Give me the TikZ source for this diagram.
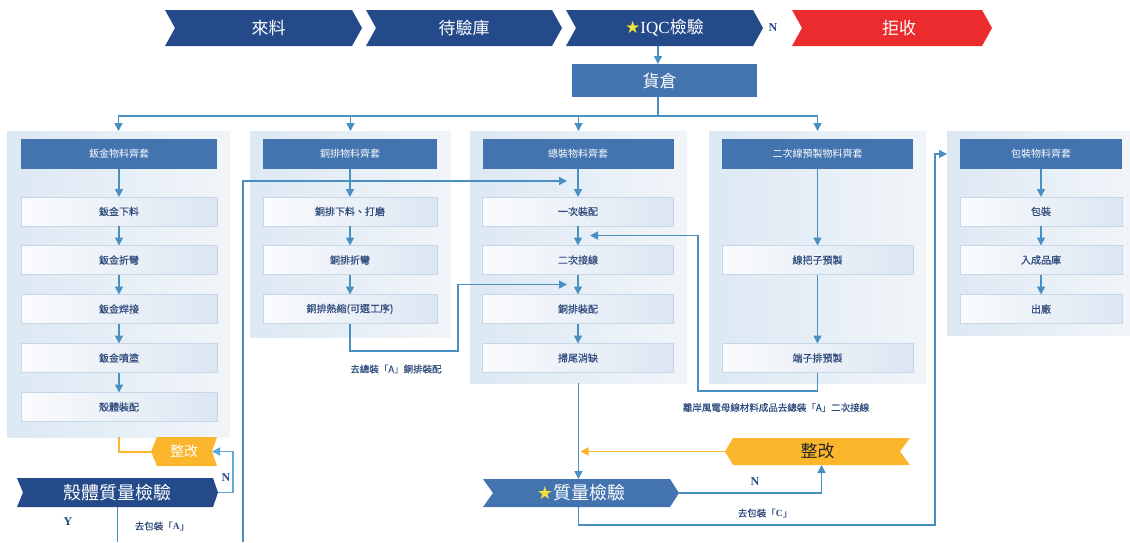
\documentclass[tikz,border=0pt]{standalone}
\usepackage{fontspec}
\usetikzlibrary{arrows.meta,calc}
\newfontfamily\cjk{Noto Sans CJK TC}
\newfontfamily\cjkm{Noto Sans CJK TC}[FakeBold=0.3]
\newfontfamily\ser{Liberation Serif}
\newfontfamily\dvs{DejaVu Sans}
\definecolor{dkblue}{HTML}{254A8A}
\definecolor{mdblue}{HTML}{4374B0}
\definecolor{rejred}{HTML}{EC2B2F}
\definecolor{orng}{HTML}{FBB62C}
\definecolor{lnblue}{HTML}{4A8FC2}
\definecolor{lnlight}{HTML}{5EA8DC}
\definecolor{txtblue}{HTML}{2F4B7C}
\definecolor{staryel}{HTML}{F2E23A}
\definecolor{grpL}{HTML}{DCE8F3}
\definecolor{grpR}{HTML}{F1F5F9}
\definecolor{stepL}{HTML}{FAFBFD}
\definecolor{stepR}{HTML}{DCE6F2}
\definecolor{stepbd}{HTML}{C6D7EA}
\tikzset{
  base/.style={inner sep=0pt, outer sep=0pt, font=\cjk},
  chevR/.style n args={3}{base, path picture={\fill[#1]
    (path picture bounding box.north west) -- ([xshift=-#3]path picture bounding box.north east)
    -- (path picture bounding box.east) -- ([xshift=-#3]path picture bounding box.south east)
    -- (path picture bounding box.south west) -- ([xshift=#2]path picture bounding box.west) -- cycle;}},
  chevL/.style n args={3}{base, path picture={\fill[#1]
    ([xshift=#2]path picture bounding box.north west) -- (path picture bounding box.north east)
    -- ([xshift=-#3]path picture bounding box.east) -- (path picture bounding box.south east)
    -- ([xshift=#2]path picture bounding box.south west) -- (path picture bounding box.west) -- cycle;}},
  ban/.style={minimum height=36, text=white, font=\cjk\fontsize{17}{20}\selectfont},
  grp/.style={base, left color=grpL, right color=grpR},
  hdr/.style={base, fill=mdblue, minimum height=30, text=white, font=\cjk\fontsize{10}{12}\selectfont},
  stp/.style={base, draw=stepbd, line width=0.8pt, left color=stepL, right color=stepR, minimum height=29, text=txtblue, font=\cjkm\fontsize{10}{12}\selectfont},
  ln/.style={draw=lnblue, line width=1.5pt},
  arr/.style={ln, -{Triangle[length=8pt,width=8pt]}},
  oarr/.style={draw=orng, line width=1.5pt, -{Triangle[length=8pt,width=8pt]}},
  oln/.style={draw=orng, line width=2pt},
  lbl/.style={base, text=txtblue, font=\cjkm\fontsize{9.5}{11}\selectfont},
  yn/.style={base, text=dkblue, font=\ser\bfseries\fontsize{12}{14}\selectfont},
}
\begin{document}
\begin{tikzpicture}[x=1pt,y=-1pt]
\useasboundingbox (0,0) rectangle (1130,542);
% ---------- banner
\node[chevR={dkblue}{10}{10}, ban, minimum width=197] (c1) at (263.5,28) {\hspace{10pt}來料};
\node[chevR={dkblue}{10}{10}, ban, minimum width=196] (c2) at (464,28) {待驗庫};
\node[chevR={dkblue}{10}{10}, ban, minimum width=197] (c3) at (664.5,28) {{\dvs\color{staryel}★}{\ser IQC}檢驗\hspace{10pt}};
\node[chevR={rejred}{10}{10}, ban, minimum width=200] (c4) at (892,28) {\hspace{14pt}拒收};
\node[yn] (nq) at (773,28) {N};
\coordinate (k) at (658,0);
\node[base, fill=mdblue, minimum width=185, minimum height=33, text=white, font=\cjk\fontsize{17}{20}\selectfont] (wh) at (664.5,80.5) {\hspace{-10pt}貨倉};
\draw[arr] (c3.south -| k) -- (wh.north -| k);
% ---------- groups
\node[grp, minimum width=223, minimum height=306] (g1) at (118.5,284) {};
\node[grp, minimum width=201, minimum height=206] (g2) at (350.5,234) {};
\node[grp, minimum width=217, minimum height=252] (g3) at (578.5,257) {};
\node[grp, minimum width=217, minimum height=252] (g4) at (817.5,257) {};
\node[grp, minimum width=183, minimum height=204] (g5) at (1038.5,233) {};
% distribution bus
\coordinate (bus) at (0,116);
\draw[ln] (wh.south -| k) -- (k |- bus);
\draw[arr] (g4.north |- bus) -| (g1.north);
\draw[arr] (g2.north |- bus) -- (g2.north);
\draw[arr] (g3.north |- bus) -- (g3.north);
\draw[arr] (g4.north |- bus) -- (g4.north);
% group 1
\node[hdr, minimum width=196] (h1) at (119,154) {鈑金物料齊套};
\node[stp, minimum width=196] (s11) at (119,211.5) {鈑金下料};
\node[stp, minimum width=196] (s12) at (119,260) {鈑金折彎};
\node[stp, minimum width=196] (s13) at (119,309) {鈑金焊接};
\node[stp, minimum width=196] (s14) at (119,358) {鈑金噴塗};
\node[stp, minimum width=196] (s15) at (119,407) {殼體裝配};
\foreach \a/\b in {h1/s11,s11/s12,s12/s13,s13/s14,s14/s15} \draw[arr] (\a.south) -- (\b.north);
% group 2
\node[hdr, minimum width=174] (h2) at (350,154) {銅排物料齊套};
\node[stp, minimum width=174] (s21) at (350,211.5) {銅排下料、打磨};
\node[stp, minimum width=174] (s22) at (350,260) {銅排折彎};
\node[stp, minimum width=174] (s23) at (350,309) {銅排熱縮(可選工序)};
\foreach \a/\b in {h2/s21,s21/s22,s22/s23} \draw[arr] (\a.south) -- (\b.north);
% group 3
\node[hdr, minimum width=191] (h3) at (578,154) {總裝物料齊套};
\node[stp, minimum width=191] (s31) at (578,211.5) {一次裝配};
\node[stp, minimum width=191] (s32) at (578,260) {二次接線};
\node[stp, minimum width=191] (s33) at (578,309) {銅排裝配};
\node[stp, minimum width=191] (s34) at (578,358) {掃尾消缺};
\foreach \a/\b in {h3/s31,s31/s32,s32/s33,s33/s34} \draw[arr] (\a.south) -- (\b.north);
% group 4
\node[hdr, minimum width=191] (h4) at (817.5,154) {二次線預製物料齊套};
\node[stp, minimum width=191] (s41) at (817.5,260) {線把子預製};
\node[stp, minimum width=191] (s42) at (817.5,358) {端子排預製};
\draw[arr] (h4.south) -- (s41.north);
\draw[arr] (s41.south) -- (s42.north);
% group 5
\node[hdr, minimum width=162] (h5) at (1041,154) {包裝物料齊套};
\node[stp, minimum width=162] (s51) at (1041,211.5) {包裝};
\node[stp, minimum width=162] (s52) at (1041,260) {入成品庫};
\node[stp, minimum width=162] (s53) at (1041,309) {出廠};
\draw[arr] (h5.south) -- (s51.north);
\draw[arr] (s51.south) -- (s52.north);
\draw[arr] (s52.south) -- (s53.north);
% ---------- side feeds into assembly
\coordinate (b1) at (243,542);
\coordinate (t1) at (567,181);
\coordinate (t2) at (567,284.5);
\coordinate (t3) at (590,235.5);
\draw[arr] (b1) |- (t1);
\draw[arr] (s23.south) |- (458,351) |- (t2);
\node[lbl] (la) at (396,369) {去總裝「A」銅排裝配};
\draw[arr] (s42.south) |- (698,391) |- (t3);
\node[lbl] (lb) at (776,407.5) {離岸風電母線材料成品去總裝「A」二次接線};
% ---------- left quality loop
\node[chevL={orng}{6}{5}, minimum width=66, minimum height=29, text=white, font=\cjk\fontsize{14}{16}\selectfont] (z1) at (184,451.5) {整改};
\node[chevR={dkblue}{6}{5}, minimum width=201, minimum height=29, text=white, font=\cjk\fontsize{18}{20}\selectfont] (q1) at (117.5,492.5) {殼體質量檢驗};
\draw[oln] (g1.south) |- (z1.west);
\draw[draw=lnlight, line width=1.5pt, -{Triangle[length=8pt,width=8pt]}] (q1.east) -- ++(15,0) |- ([xshift=-5pt]z1.east);
\node[yn] (n1) at (226,478) {N};
\node[yn] (y1) at (68,522) {Y};
\draw[ln] (q1.south) -- (q1.south |- b1);
\node[lbl] (lc) at (162,526) {去包裝「{\ser\bfseries A}」};
% ---------- right quality loop
\node[chevR={mdblue}{10}{9}, minimum width=196, minimum height=28, text=white, font=\cjk\fontsize{18}{20}\selectfont] (q2) at (581,493) {{\dvs\color{staryel}★}質量檢驗\hspace{18pt}};
\node[chevL={orng}{8}{10}, minimum width=185, minimum height=27, text=black!85, font=\cjk\fontsize{17}{20}\selectfont] (z2) at (817.5,451.5) {整改};
\draw[arr] (g3.south) -- (g3.south |- q2.north);
\draw[oarr] (z2.west) -- ([xshift=2pt]z2.west -| g3.south);
\draw[arr] (q2.east) -| ([xshift=4pt]z2.south);
\node[yn] (n2) at (755,482) {N};
\draw[arr] (q2.south -| g3.south) |- (935,525) |- (g5.west |- h5);
\node[lbl] (ld) at (765,513) {去包裝「{\ser\bfseries C}」};
\end{tikzpicture}
\end{document}
